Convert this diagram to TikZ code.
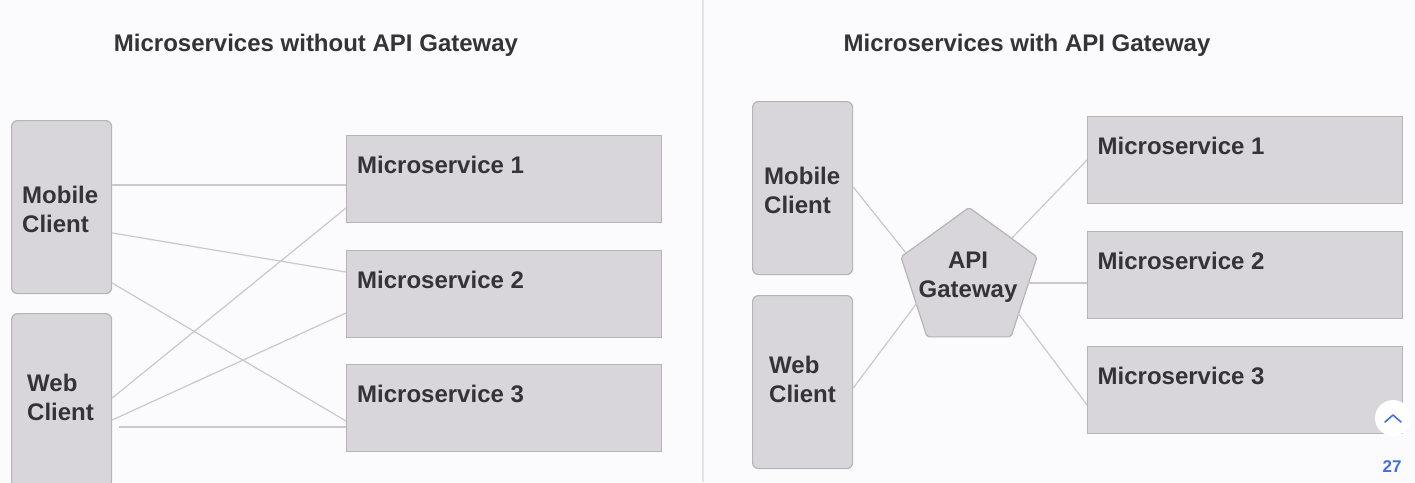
\documentclass[tikz,border=0pt]{standalone}
\usepackage{fontspec}
\setmainfont{Liberation Sans}
\usetikzlibrary{shapes.geometric}
\definecolor{bg}{RGB}{251,250,252}
\definecolor{boxfill}{RGB}{216,214,218}
\definecolor{boxline}{RGB}{182,180,184}
\definecolor{connc}{RGB}{202,200,204}
\definecolor{txt}{RGB}{52,51,56}
\definecolor{divc}{RGB}{228,226,230}
\definecolor{blueui}{RGB}{66,110,225}
\begin{document}
\begin{tikzpicture}[x=1pt,y=-1pt,
  client/.style={draw=boxline, line width=1.2pt, fill=boxfill, rounded corners=6pt,
    minimum width=100pt, minimum height=173pt, inner sep=0pt, anchor=north west},
  svc/.style={draw=boxline, line width=1.2pt, fill=boxfill,
    minimum width=315pt, minimum height=87pt, inner sep=0pt, anchor=north west},
  boxtext/.style={font=\bfseries\fontsize{24}{29}\selectfont, text=txt, inner sep=0pt, align=left},
  titletext/.style={font=\bfseries\fontsize{24}{29}\selectfont, text=txt, anchor=base, inner sep=0pt},
  link/.style={draw=connc, line width=1.2pt},
  gate/.style={draw=boxline, line width=1.2pt, fill=boxfill, regular polygon, regular polygon sides=5,
    minimum size=143pt, inner sep=0pt, rounded corners=2pt}
]
\useasboundingbox (0,0) rectangle (1415,482);
\fill[bg] (0,0) rectangle (1415,482);
\draw[divc, line width=1.5pt] (703,0) -- (703,482);

% titles
\node[titletext] (t1) at (316,51) {Microservices without API Gateway};
\node[titletext] (t2) at (1027,51) {Microservices with API Gateway};

% ---------- left panel ----------
\node[client, label={[boxtext, anchor=north west, shift={(11,66)}]north west:{Mobile\\Client}}] (mobL) at (11,120) {};
\node[client, label={[boxtext, anchor=north west, shift={(16,61)}]north west:{Web\\Client}}] (webL) at (11,313) {};
\node[svc, label={[boxtext, anchor=base west, shift={(11,38)}]north west:Microservice 1}] (ms1L) at (346,135) {};
\node[svc, label={[boxtext, anchor=base west, shift={(11,38)}]north west:Microservice 2}] (ms2L) at (346,250) {};
\node[svc, label={[boxtext, anchor=base west, shift={(11,38)}]north west:Microservice 3}] (ms3L) at (346,364) {};

\draw[link] ([shift={(0,65)}]mobL.north east) -- ([shift={(0,50)}]ms1L.north west);
\draw[link] ([shift={(0,113)}]mobL.north east) -- ([shift={(0,22)}]ms2L.north west);
\draw[link] ([shift={(0,163)}]mobL.north east) -- ([shift={(0,57)}]ms3L.north west);
\draw[link] ([shift={(0,85)}]webL.north east) -- ([shift={(0,73)}]ms1L.north west);
\draw[link] ([shift={(0,107)}]webL.north east) -- ([shift={(0,63)}]ms2L.north west);
\draw[link] ([shift={(7,114)}]webL.north east) -- ([shift={(0,63)}]ms3L.north west);

% ---------- right panel ----------
\node[client, label={[boxtext, anchor=north west, shift={(12,66)}]north west:{Mobile\\Client}}] (mobR) at (752,101) {};
\node[client, label={[boxtext, anchor=north west, shift={(17,61)}]north west:{Web\\Client}}] (webR) at (752,295) {};
\node[gate, label={[boxtext, align=center, anchor=center, shift={(-1,-2)}]center:{API\\Gateway}}] (gw) at (969,279) {};
\node[svc, label={[boxtext, anchor=base west, shift={(10.5,38.5)}]north west:Microservice 1}] (ms1R) at (1087,116) {};
\node[svc, label={[boxtext, anchor=base west, shift={(10.5,38.5)}]north west:Microservice 2}] (ms2R) at (1087,231) {};
\node[svc, label={[boxtext, anchor=base west, shift={(10.5,38.5)}]north west:Microservice 3}] (ms3R) at (1087,346) {};

\draw[link] ([shift={(0,86)}]mobR.north east) -- ([shift={(-63,-26)}]gw.center);
\draw[link] ([shift={(0,93)}]webR.north east) -- ([shift={(-52,24)}]gw.center);
\draw[link] ([shift={(43,-41)}]gw.center) -- ([shift={(0,44)}]ms1R.north west);
\draw[link] ([shift={(59,4)}]gw.center) -- ([shift={(0,52)}]ms2R.north west);
\draw[link] ([shift={(49,34)}]gw.center) -- ([shift={(0,59)}]ms3R.north west);

% ---------- page widgets ----------
\node[circle, fill=white, minimum size=36pt, inner sep=0pt] (up) at (1393,418) {};
\draw[blueui, line width=1.6pt, line join=round, line cap=round]
  ([shift={(-8,4)}]up.center) -- ([shift={(0,-3)}]up.center) -- ([shift={(8,4)}]up.center);
\node[font=\bfseries\fontsize{17}{20}\selectfont, text=blueui, inner sep=0pt] (pg) at (1392,467) {27};
\end{tikzpicture}
\end{document}
